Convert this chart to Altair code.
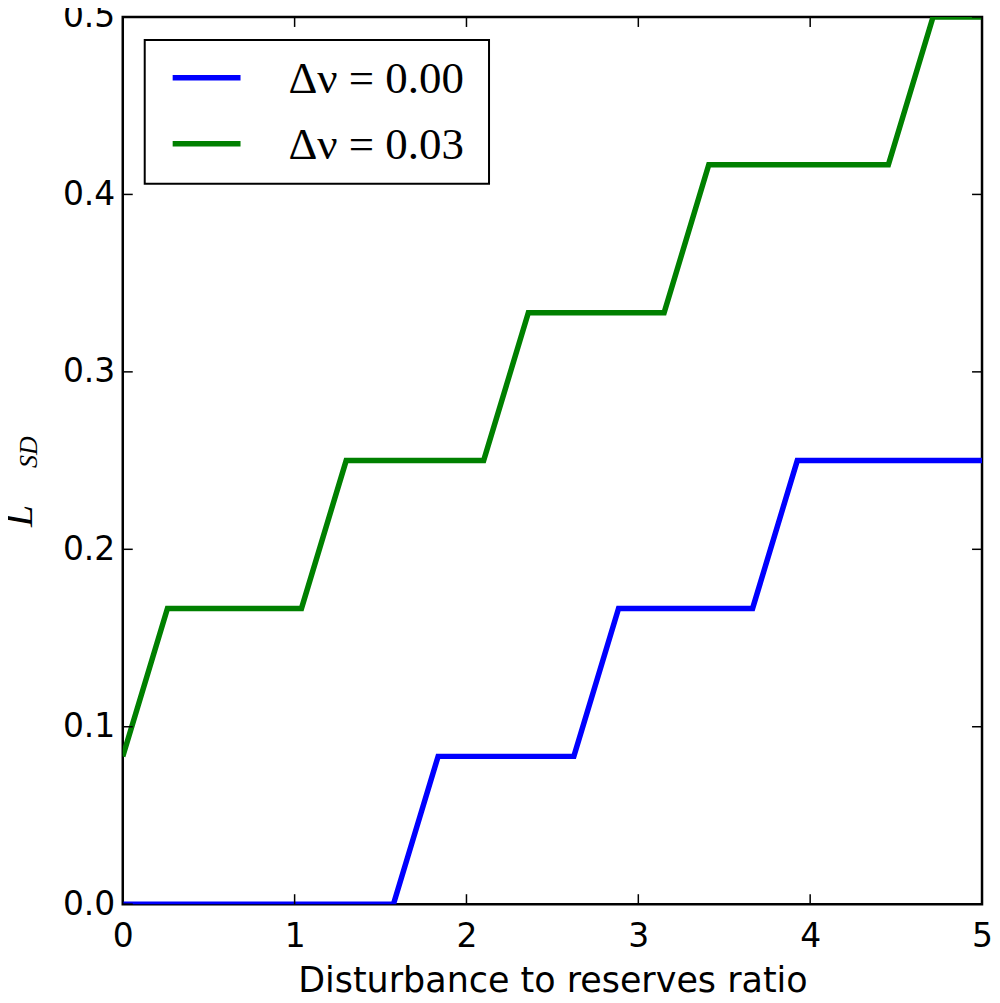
import altair as alt
import pandas as pd

# ---- data ----
series_names = ["Δν = 0.00", "Δν = 0.03"]
series_colors = ["#0000ff", "#008000"]

blue_x = [0.0, 1.575, 1.835, 2.625, 2.885, 3.665, 3.925, 5.0]
blue_y = [0.0, 0.0, 0.0833, 0.0833, 0.1667, 0.1667, 0.25, 0.25]

green_x = [0.0, 0.26, 1.04, 1.30, 2.10, 2.36, 3.15, 3.41, 4.455, 4.715, 5.0]
green_y = [0.0833, 0.1667, 0.1667, 0.25, 0.25, 0.3333, 0.3333, 0.4167, 0.4167, 0.5, 0.5]

x_ticks = [0, 1, 2, 3, 4, 5]
y_ticks = [0.0, 0.1, 0.2, 0.3, 0.4, 0.5]

x_title = "Disturbance to reserves ratio"
y_title_main = ["L"]
y_title_sub = ["SD"]

W, H = 861, 889

rows = []
for i, (x, y) in enumerate(zip(blue_x, blue_y)):
    rows.append({"x": x, "y": y, "series": series_names[0], "idx": i})
for i, (x, y) in enumerate(zip(green_x, green_y)):
    rows.append({"x": x, "y": y, "series": series_names[1], "idx": i})
df = pd.DataFrame(rows)

xscale = alt.Scale(domain=[0, 5], nice=False, zero=False)
yscale = alt.Scale(domain=[0, 0.5], nice=False, zero=False)
xaxis = alt.Axis(values=x_ticks, format="d", labelPadding=16, titlePadding=10,
                 labelFlush=False)
yaxis = alt.Axis(values=y_ticks, format=".1f", labelPadding=8, labelFlush=False)


def X(field="x"):
    return alt.X(f"{field}:Q", scale=xscale, title=x_title, axis=xaxis)


def Y(field="y"):
    return alt.Y(f"{field}:Q", scale=yscale, title=None, axis=yaxis)


lines = alt.Chart(df).mark_line(strokeWidth=5.5, clip=True).encode(
    x=X(), y=Y(),
    color=alt.Color("series:N",
                    scale=alt.Scale(domain=series_names, range=series_colors),
                    legend=None),
    order="idx:Q",
)

xt = pd.DataFrame({"x": x_ticks})
yt = pd.DataFrame({"y": y_ticks})

tick_style = dict(color="black", strokeWidth=1.5)
bottom_ticks = alt.Chart(xt).mark_rule(**tick_style).encode(
    x=X(), y=alt.value(H), y2=alt.value(H - 10))
top_ticks = alt.Chart(xt).mark_rule(**tick_style).encode(
    x=X(), y=alt.value(0), y2=alt.value(10))
left_ticks = alt.Chart(yt).mark_rule(**tick_style).encode(
    y=Y(), x=alt.value(0), x2=alt.value(10))
right_ticks = alt.Chart(yt).mark_rule(**tick_style).encode(
    y=Y(), x=alt.value(W - 10), x2=alt.value(W))

# ---- legend drawn as marks (layout positions in pixels) ----
one = pd.DataFrame({"k": [0]})
legend_box = alt.Chart(one).mark_rect(fill="white", stroke="black", strokeWidth=2).encode(
    x=alt.value(22), x2=alt.value(367), y=alt.value(23), y2=alt.value(167))
legend_layers = [legend_box]
row_y = [61, 127]
for name, col, ry in zip(series_names, series_colors, row_y):
    legend_layers.append(
        alt.Chart(one).mark_rule(color=col, strokeWidth=5.5).encode(
            x=alt.value(50), x2=alt.value(118), y=alt.value(ry)))
    legend_layers.append(
        alt.Chart(pd.DataFrame({"t": [name]})).mark_text(
            font="Liberation Serif", fontSize=45, align="left", baseline="middle",
            color="black").encode(text="t:N", x=alt.value(166), y=alt.value(ry + 1)))

ytitle_main = alt.Chart(pd.DataFrame({"t": y_title_main})).mark_text(
    font="Liberation Serif", fontStyle="italic", fontSize=40, angle=270,
    align="center", baseline="middle", color="black").encode(
    text="t:N", x=alt.value(-103), y=alt.value(500))
ytitle_sub = alt.Chart(pd.DataFrame({"t": y_title_sub})).mark_text(
    font="Liberation Serif", fontStyle="italic", fontSize=26, angle=270,
    align="center", baseline="middle", color="black").encode(
    text="t:N", x=alt.value(-94), y=alt.value(436))

chart = alt.layer(
    lines, bottom_ticks, top_ticks, left_ticks, right_ticks,
    *legend_layers, ytitle_main, ytitle_sub
).properties(
    width=W, height=H,
    autosize=alt.AutoSizeParams(type="none"),
    padding={"left": 115, "top": 8, "right": 10, "bottom": 90},
    background="white",
).configure_view(
    stroke="black", strokeWidth=2.5
).configure_axis(
    grid=False, domain=False, ticks=False,
    labelFont="DejaVu Sans", labelFontSize=33, labelColor="black",
    titleFont="DejaVu Sans", titleFontSize=35, titleFontWeight="normal",
    titleColor="black",
)

chart.save("out.html", embed_options={"renderer": "svg", "actions": False})
